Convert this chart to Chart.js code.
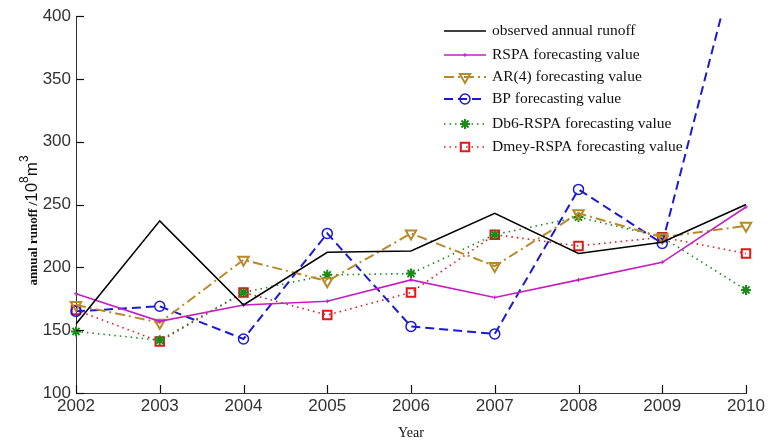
<!DOCTYPE html>
<html>
<head>
<meta charset="utf-8">
<script src="https://cdn.jsdelivr.net/npm/chart.js@4/dist/chart.umd.min.js"></script>
<style>
  html, body { margin: 0; padding: 0; background: #fff; }
  #wrap { width: 768px; height: 448px; }
</style>
</head>
<body>
<div id="wrap"><canvas id="runoffChart"></canvas></div>
<script>
const years = ['2002','2003','2004','2005','2006','2007','2008','2009','2010'];

const observed = [155, 237, 170, 212, 213, 243, 211, 220, 250];
const rspa     = [179, 157, 170, 173, 190, 176, 190, 204, 248];
const ar4      = [170, 156, 206, 189, 227, 201, 243, 224, 233];
const bp       = [165, 169, 143, 227, 153, 147, 262, 219, 476];
const db6      = [149, 142, 180, 194, 195, 226, 240, 224, 182];
const dmey     = [166, 141, 180, 162, 180, 226, 217, 224, 211];

const yTicks = [100, 150, 200, 250, 300, 350, 400];

const serif = "'Liberation Serif', 'DejaVu Serif', serif";
const sans = "'Liberation Sans', Arial, sans-serif";

const RunoffData = {
    labels: years,
    datasets: [{
        label: 'observed annual runoff',
        data: observed,
        borderColor: '#000000',
        borderWidth: 1.6,
        pointRadius: 0,
        tension: 0
    }, {
        label: 'RSPA forecasting value',
        data: rspa,
        borderColor: '#c31fc3',
        backgroundColor: '#c31fc3',
        borderWidth: 1.6,
        pointStyle: 'cross',
        pointRadius: 2,
        pointBorderWidth: 1,
        tension: 0
    }, {
        label: 'AR(4) forecasting value',
        data: ar4,
        borderColor: '#b8892a',
        backgroundColor: 'rgba(255,255,255,0)',
        borderWidth: 2,
        borderDash: [10, 4, 2, 4],
        pointStyle: 'triangle',
        rotation: 180,
        pointRadius: 6,
        pointBorderWidth: 2,
        tension: 0
    }, {
        label: 'BP forecasting value',
        data: bp,
        borderColor: '#1a1ad6',
        backgroundColor: 'rgba(255,255,255,0)',
        borderWidth: 2,
        borderDash: [9, 5],
        pointStyle: 'circle',
        pointRadius: 5,
        pointBorderWidth: 1.5,
        tension: 0
    }, {
        label: 'Db6-RSPA forecasting value',
        data: db6,
        borderColor: '#1a8a1a',
        backgroundColor: '#1a8a1a',
        borderWidth: 1.6,
        borderDash: [1.5, 4],
        pointStyle: 'star',
        pointRadius: 5,
        pointBorderWidth: 2,
        tension: 0
    }, {
        label: 'Dmey-RSPA forecasting value',
        data: dmey,
        borderColor: '#e01818',
        backgroundColor: 'rgba(255,255,255,0)',
        borderWidth: 1.6,
        borderDash: [1.5, 4],
        pointStyle: 'rect',
        pointRadius: 6,
        pointBorderWidth: 2,
        tension: 0
    }]
};

// matlab style ticks pointing into the plot
const innerTicks = {
    id: 'innerTicks',
    afterDraw(chart) {
        const ctx = chart.ctx;
        const x = chart.scales.x, y = chart.scales.y;
        const area = chart.chartArea;
        ctx.save();
        ctx.setLineDash([]);
        ctx.strokeStyle = '#111';
        ctx.lineWidth = 1.2;
        years.forEach((yr, i) => {
            const px = Math.round(x.getPixelForTick(i)) + 0.5;
            ctx.beginPath();
            ctx.moveTo(px, area.bottom);
            ctx.lineTo(px, area.bottom - 8);
            ctx.stroke();
        });
        yTicks.forEach(v => {
            const py = Math.round(y.getPixelForValue(v)) + 0.5;
            ctx.beginPath();
            ctx.moveTo(area.left, py);
            ctx.lineTo(area.left + 8, py);
            ctx.stroke();
        });
        ctx.restore();
    }
};

// y title: serif words + sans units with superscripts
const yTitle = {
    id: 'yTitle',
    afterDraw(chart) {
        const ctx = chart.ctx;
        const area = chart.chartArea;
        const parts = [
            { t: 'annual runoff /', f: 'bold 13px ' + serif, dy: 0 },
            { t: '10', f: '17px ' + sans, dy: 0 },
            { t: '8', f: '12px ' + sans, dy: -9 },
            { t: 'm', f: '17px ' + sans, dy: 0 },
            { t: '3', f: '12px ' + sans, dy: -9 }
        ];
        ctx.save();
        let total = 0;
        parts.forEach(p => { ctx.font = p.f; p.w = ctx.measureText(p.t).width; total += p.w; });
        ctx.translate(37, (area.top + area.bottom) / 2 + 16);
        ctx.rotate(-Math.PI / 2);
        ctx.fillStyle = '#111';
        ctx.textBaseline = 'alphabetic';
        let cx = -total / 2;
        parts.forEach(p => {
            ctx.font = p.f;
            ctx.fillText(p.t, cx, p.dy);
            cx += p.w;
        });
        ctx.restore();
    }
};

// legend with line sample and marker, like the matlab one
const lineLegend = {
    id: 'lineLegend',
    afterDraw(chart) {
        const ctx = chart.ctx;
        const rows = [31, 55, 77, 99, 124, 147];
        const x0 = 444, x1 = 486, tx = 492;
        ctx.save();
        chart.data.datasets.forEach((ds, i) => {
            const yy = rows[i];
            ctx.strokeStyle = ds.borderColor;
            ctx.lineWidth = ds.borderWidth;
            ctx.setLineDash(ds.borderDash || []);
            ctx.beginPath();
            ctx.moveTo(x0, yy);
            ctx.lineTo(x1, yy);
            ctx.stroke();
            ctx.setLineDash([]);
            if (ds.pointRadius > 0) {
                ctx.fillStyle = ds.backgroundColor;
                ctx.lineWidth = ds.pointBorderWidth;
                Chart.helpers.drawPoint(ctx, {
                    pointStyle: ds.pointStyle,
                    radius: ds.pointRadius,
                    rotation: ds.rotation || 0,
                    borderWidth: ds.pointBorderWidth
                }, (x0 + x1) / 2, yy);
            }
            ctx.fillStyle = '#111';
            ctx.font = '15.5px ' + serif;
            ctx.textBaseline = 'middle';
            ctx.fillText(ds.label, tx, yy);
        });
        ctx.restore();
    }
};

const config = {
    type: 'line',
    data: RunoffData,
    plugins: [innerTicks, yTitle, lineLegend],
    options: {
        responsive: true,
        maintainAspectRatio: false,
        animation: false,
        layout: { padding: { top: 16, right: 22, left: 0, bottom: 6 } },
        plugins: {
            legend: { display: false },
            tooltip: { enabled: false }
        },
        scales: {
            x: {
                type: 'category',
                offset: false,
                grid: { display: false, drawTicks: false },
                border: { display: true, color: '#333', width: 1 },
                ticks: { color: '#333', font: { family: sans, size: 17 }, padding: 3, maxRotation: 0, autoSkip: false },
                title: { display: true, text: 'Year', color: '#111', font: { family: serif, size: 14 }, padding: { top: 2, bottom: 0 } },
                afterFit(scale) { scale.height = 49; }
            },
            y: {
                min: 100,
                max: 400,
                afterBuildTicks(scale) { scale.ticks = yTicks.map(v => ({ value: v })); },
                grid: { display: false, drawTicks: false },
                border: { display: true, color: '#333', width: 1 },
                ticks: { color: '#333', font: { family: sans, size: 17 }, padding: 5 },
                afterFit(scale) { scale.width = 76; }
            }
        }
    }
};

const chart = new Chart(document.getElementById('runoffChart'), config);
</script>
</body>
</html>
